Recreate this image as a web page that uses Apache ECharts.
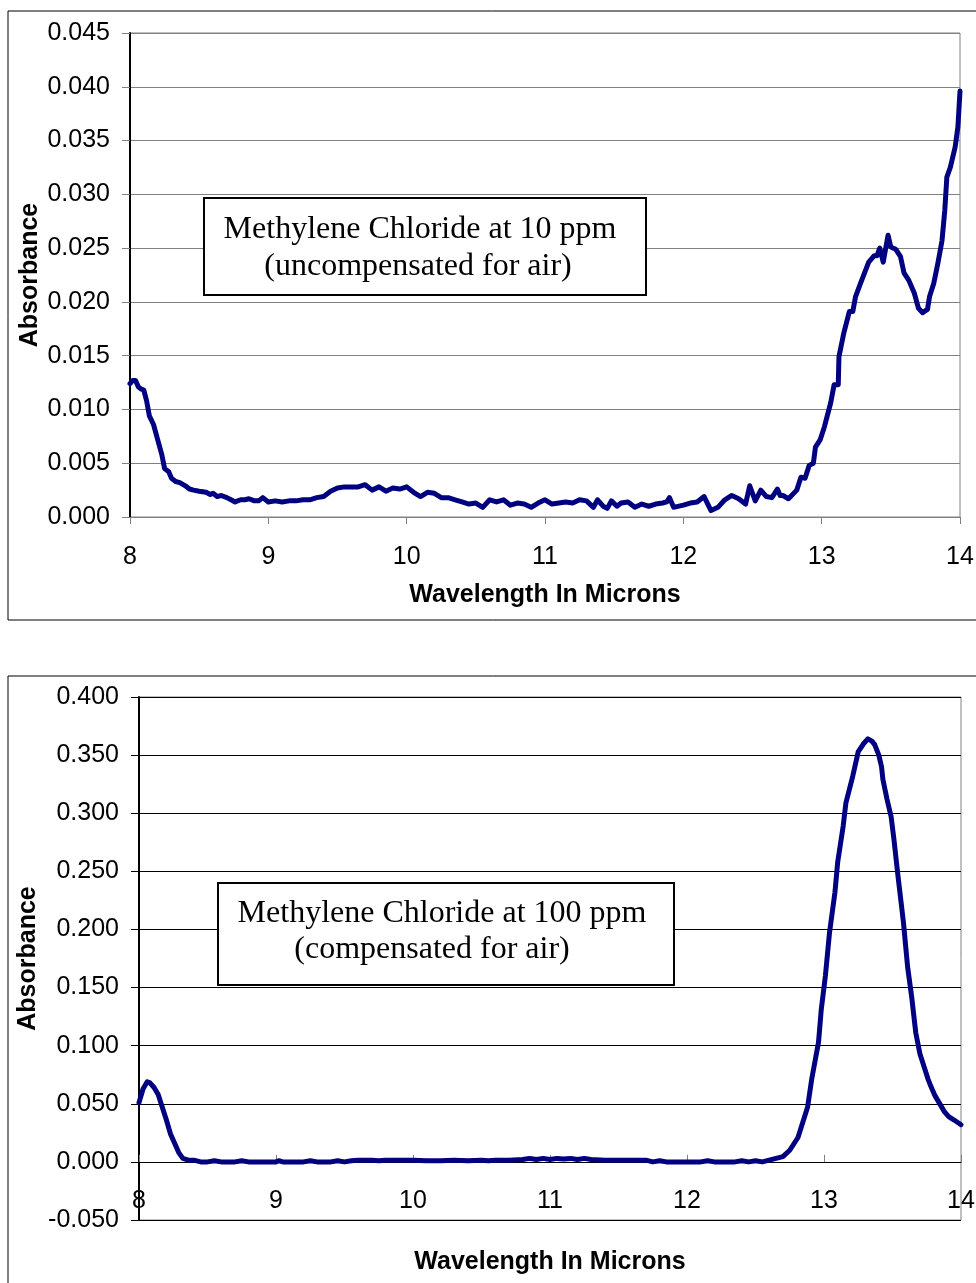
<!DOCTYPE html>
<html>
<head>
<meta charset="utf-8">
<script src="https://cdn.jsdelivr.net/npm/echarts@6/dist/echarts.min.js"></script>
<style>
html,body{margin:0;padding:0;background:#fff;}
#chart{width:976px;height:1283px;}
</style>
</head>
<body>
<div id="chart"></div>
<script>
// ---- Top chart data (10 ppm, uncompensated) ----
const wlTop = [8.00,8.02,8.04,8.06,8.08,8.10,8.12,8.14,8.17,8.20,8.23,8.25,8.28,8.30,8.33,8.36,8.40,8.43,8.46,8.50,8.55,8.58,8.60,8.63,8.66,8.70,8.73,8.76,8.80,8.83,8.86,8.90,8.93,8.96,9.00,9.05,9.10,9.15,9.20,9.25,9.30,9.35,9.40,9.45,9.50,9.55,9.60,9.65,9.70,9.75,9.80,9.85,9.90,9.95,10.00,10.05,10.10,10.15,10.20,10.25,10.30,10.35,10.40,10.45,10.50,10.55,10.60,10.65,10.70,10.75,10.80,10.85,10.90,10.95,11.00,11.05,11.10,11.15,11.20,11.25,11.30,11.35,11.38,11.42,11.45,11.48,11.52,11.55,11.60,11.65,11.70,11.75,11.80,11.85,11.88,11.90,11.93,12.00,12.05,12.10,12.15,12.20,12.25,12.30,12.35,12.40,12.45,12.48,12.52,12.56,12.60,12.64,12.68,12.70,12.72,12.76,12.82,12.85,12.88,12.91,12.94,12.955,12.99,13.02,13.065,13.09,13.12,13.125,13.16,13.20,13.225,13.245,13.28,13.31,13.34,13.38,13.40,13.42,13.445,13.48,13.50,13.535,13.57,13.595,13.63,13.67,13.70,13.73,13.765,13.78,13.81,13.84,13.87,13.89,13.905,13.93,13.965,13.985,14.00];
const absTop = [0.0124,0.0127,0.0127,0.0121,0.0119,0.0118,0.0108,0.0094,0.0086,0.0072,0.0058,0.0045,0.0042,0.0036,0.0033,0.0032,0.0029,0.0026,0.0025,0.0024,0.0023,0.0021,0.0022,0.0019,0.0020,0.0018,0.0016,0.0014,0.0016,0.0016,0.0017,0.0015,0.0015,0.0018,0.0014,0.0015,0.0014,0.0015,0.0015,0.0016,0.0016,0.0018,0.0019,0.0024,0.0027,0.0028,0.0028,0.0028,0.0030,0.0025,0.0028,0.0024,0.0027,0.0026,0.0028,0.0023,0.0019,0.0023,0.0022,0.0018,0.0018,0.0016,0.0014,0.0012,0.0013,0.0009,0.0016,0.0014,0.0016,0.0011,0.0013,0.0012,0.0009,0.0013,0.0016,0.0012,0.0013,0.0014,0.0013,0.0016,0.0015,0.0009,0.0016,0.0010,0.0008,0.0015,0.0010,0.0013,0.0014,0.0009,0.0012,0.0010,0.0012,0.0013,0.0014,0.0018,0.0009,0.0011,0.0013,0.0014,0.0019,0.0006,0.0009,0.0016,0.0020,0.0017,0.0012,0.0029,0.0015,0.0025,0.0019,0.0018,0.0026,0.0020,0.0020,0.0017,0.0025,0.0037,0.0036,0.0048,0.0050,0.0065,0.0072,0.0084,0.0106,0.0123,0.0123,0.0149,0.0171,0.0191,0.0191,0.0205,0.0217,0.0227,0.0237,0.0243,0.0243,0.0250,0.0237,0.0262,0.0251,0.0249,0.0242,0.0227,0.0220,0.0208,0.0194,0.0190,0.0193,0.0205,0.0217,0.0236,0.0257,0.0285,0.0316,0.0325,0.0344,0.0363,0.0396];

// ---- Bottom chart data (100 ppm, compensated) ----
const wlBot = [8.00,8.03,8.06,8.08,8.11,8.14,8.17,8.20,8.23,8.26,8.29,8.32,8.36,8.40,8.45,8.50,8.55,8.60,8.70,8.75,8.80,8.90,9.00,9.02,9.05,9.20,9.25,9.30,9.40,9.45,9.50,9.55,9.60,9.70,9.75,9.80,10.00,10.10,10.20,10.30,10.40,10.50,10.55,10.60,10.70,10.80,10.85,10.90,10.95,11.00,11.05,11.10,11.15,11.20,11.25,11.30,11.40,11.50,11.60,11.70,11.75,11.80,11.85,11.90,12.00,12.10,12.15,12.20,12.35,12.40,12.45,12.50,12.55,12.60,12.70,12.75,12.81,12.88,12.91,12.96,12.98,13.01,13.04,13.08,13.10,13.14,13.16,13.21,13.25,13.29,13.32,13.35,13.37,13.40,13.42,13.43,13.46,13.49,13.51,13.54,13.58,13.61,13.64,13.67,13.70,13.73,13.76,13.78,13.81,13.84,13.88,13.91,13.95,14.00];
const absBot = [0.051,0.063,0.069,0.068,0.064,0.058,0.047,0.036,0.024,0.016,0.008,0.003,0.0015,0.0015,0.0,0.0,0.001,0.0,0.0,0.001,0.0,0.0,0.0,0.001,0.0,0.0,0.001,0.0,0.0,0.001,0.0,0.001,0.0015,0.0015,0.001,0.0015,0.0015,0.001,0.001,0.0015,0.001,0.0015,0.001,0.0015,0.0015,0.002,0.003,0.002,0.003,0.002,0.003,0.0025,0.003,0.002,0.003,0.002,0.0015,0.0015,0.0015,0.0015,0.0,0.001,0.0,0.0,0.0,0.0,0.001,0.0,0.0,0.001,0.0,0.001,0.0,0.0015,0.0045,0.010,0.021,0.047,0.071,0.103,0.131,0.160,0.197,0.232,0.258,0.289,0.309,0.332,0.353,0.360,0.364,0.362,0.359,0.350,0.340,0.329,0.312,0.297,0.278,0.246,0.206,0.168,0.142,0.111,0.093,0.082,0.071,0.065,0.057,0.051,0.043,0.039,0.036,0.032];

const xTitle = 'Wavelength In Microns';
const yTitle = 'Absorbance';
const topNote = ['Methylene Chloride at 10 ppm', '(uncompensated for air)'];
const botNote = ['Methylene Chloride at 100 ppm', '(compensated for air)'];

const SANS = "'Liberation Sans', Arial, sans-serif";
const SERIF = "'Liberation Serif', 'Times New Roman', serif";
const LINE = '#000080';

const chart = echarts.init(document.getElementById('chart'), null, {renderer: 'canvas'});

function pairs(xs, ys) { return xs.map((x, i) => [x, ys[i]]); }

function xAxisCfg(grid, opts) {
  return {
    type: 'value', gridIndex: grid, min: 8, max: 14, interval: 1,
    axisLine: {show: opts.line, onZero: opts.onZero, lineStyle: {color: opts.lineColor, width: 1}},
    axisTick: {show: opts.ticks, length: 7, lineStyle: {color: '#808080', width: 1}},
    splitLine: {show: false},
    axisLabel: {show: opts.labels, fontSize: 25, color: '#000', fontFamily: SANS, margin: opts.margin, showMaxLabel: true, showMinLabel: true},
    name: opts.name ? xTitle : '', nameLocation: 'middle', nameGap: opts.gap, nameMoveOverlap: false,
    nameTextStyle: {fontSize: 25, fontWeight: 'bold', color: '#000', fontFamily: SANS}
  };
}

function yAxisCfg(grid, min, max, interval, gap, gridColor) {
  return {
    type: 'value', gridIndex: grid, min: min, max: max, interval: interval,
    axisLine: {show: true, onZero: false, lineStyle: {color: '#000', width: 2}},
    axisTick: {show: true, length: 8, lineStyle: {color: gridColor, width: 1}},
    splitLine: {show: true, lineStyle: {color: gridColor, width: 1}},
    axisLabel: {fontSize: 25, color: '#000', fontFamily: SANS, margin: 20,
      formatter: v => Number(v).toFixed(3)},
    name: yTitle, nameLocation: 'middle', nameGap: gap, nameMoveOverlap: false,
    nameTextStyle: {fontSize: 25, fontWeight: 'bold', color: '#000', fontFamily: SANS}
  };
}

function noteBox(x, y, w, h, lines, cx, ys) {
  const els = [{
    type: 'rect', shape: {x: x, y: y, width: w, height: h},
    style: {fill: '#fff', stroke: '#000', lineWidth: 2}, z: 100
  }];
  lines.forEach((t, i) => {
    els.push({
      type: 'text', x: cx[i], y: ys[i], z: 101,
      style: {text: t, fill: '#000', font: '32px ' + SERIF, textAlign: 'center', textVerticalAlign: 'middle'}
    });
  });
  return els;
}

const option = {
  animation: false,
  backgroundColor: '#fff',
  grid: [
    {left: 130, top: 33, width: 830, height: 484, show: true, borderColor: '#808080', borderWidth: 1, backgroundColor: 'transparent', containLabel: false, outerBoundsMode: 'none'},
    {left: 139, top: 697, width: 822, height: 523, show: true, borderColor: '#808080', borderWidth: 1, backgroundColor: 'transparent', containLabel: false, outerBoundsMode: 'none'}
  ],
  xAxis: [
    xAxisCfg(0, {line: true, onZero: false, lineColor: '#808080', ticks: true, labels: true, margin: 28, name: true, gap: 66}),
    // bottom chart: labels & title measured from the plot's lower edge
    xAxisCfg(1, {line: false, onZero: false, lineColor: '#000', ticks: false, labels: true, margin: -31, name: true, gap: 30}),
    // bottom chart: axis line and ticks at zero
    xAxisCfg(1, {line: true, onZero: true, lineColor: '#000', ticks: true, labels: false, margin: 8, name: false, gap: 10})
  ],
  yAxis: [yAxisCfg(0, 0, 0.045, 0.005, 87, '#808080'), yAxisCfg(1, -0.05, 0.4, 0.05, 98, '#000')],
  series: [
    {type: 'line', xAxisIndex: 0, yAxisIndex: 0, data: pairs(wlTop, absTop), showSymbol: false, smooth: false,
      lineStyle: {color: LINE, width: 5, cap: 'round', join: 'round'}, z: 5},
    {type: 'line', xAxisIndex: 1, yAxisIndex: 1, data: pairs(wlBot, absBot), showSymbol: false, smooth: false,
      lineStyle: {color: LINE, width: 5, cap: 'round', join: 'round'}, z: 5}
  ],
  graphic: [
    {type: 'rect', shape: {x: 8, y: 11, width: 1000, height: 609}, style: {fill: 'none', stroke: '#000', lineWidth: 1}, z: 0},
    {type: 'rect', shape: {x: 8, y: 676, width: 1000, height: 700}, style: {fill: 'none', stroke: '#000', lineWidth: 1}, z: 0}
  ].concat(
    noteBox(204, 198, 442, 97, topNote, [420, 418], [230, 267]),
    noteBox(218, 883, 456, 102, botNote, [442, 432], [914, 950])
  )
};
chart.setOption(option);
</script>
</body>
</html>
